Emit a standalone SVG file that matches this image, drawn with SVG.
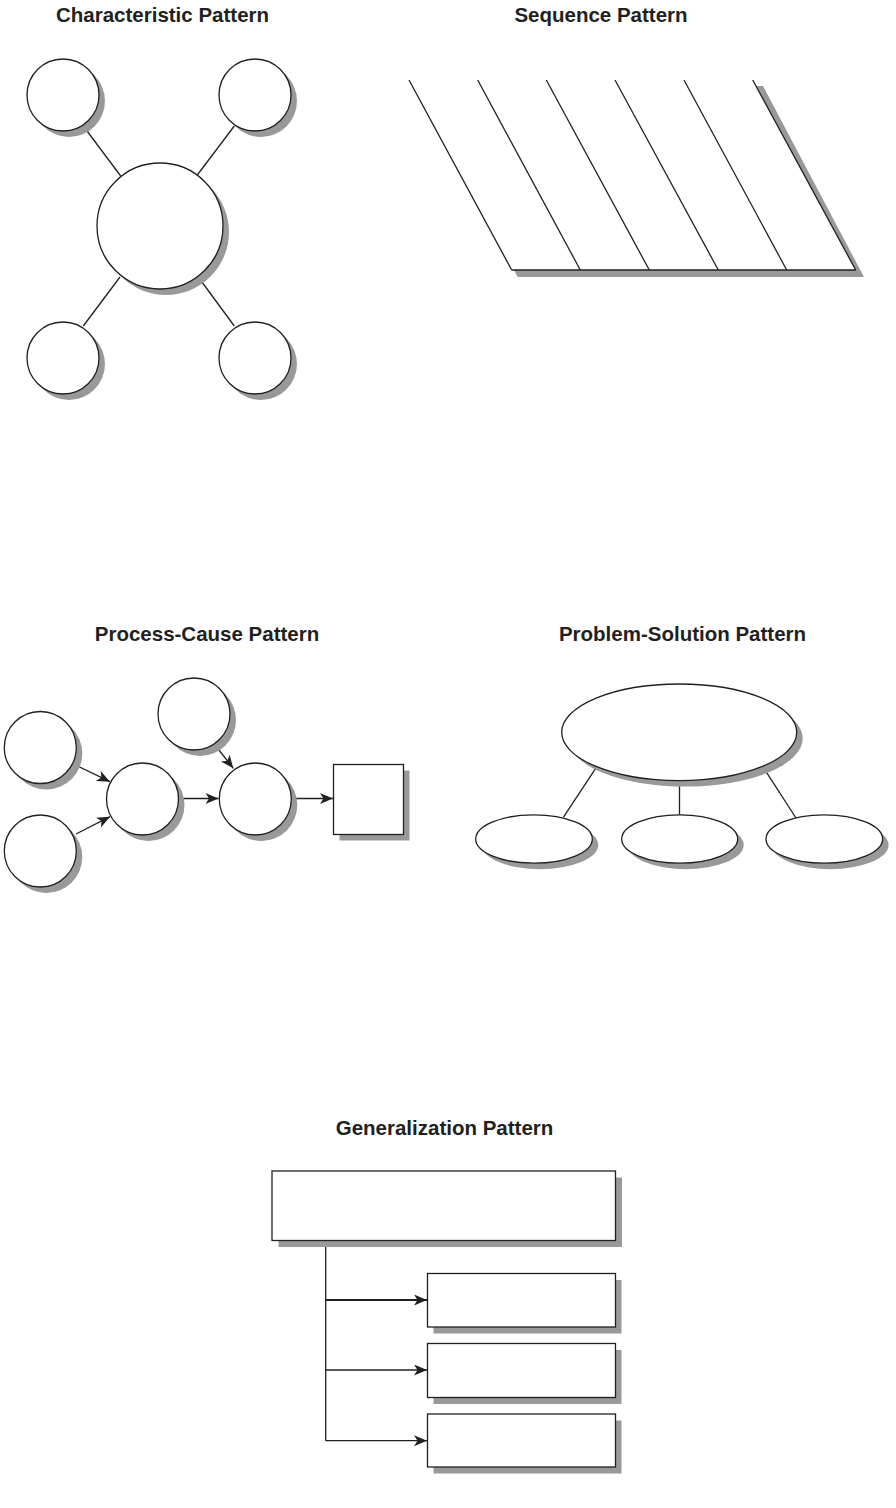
<svg xmlns="http://www.w3.org/2000/svg" width="896" height="1508" viewBox="0 0 896 1508">
<style>
.title{font-family:"Liberation Sans",Arial,sans-serif;font-weight:bold;font-size:20.5px;fill:#231f20;text-anchor:middle}
.shape{fill:#fff;stroke:#231f20;stroke-width:1.3}
.sh{fill:#999;stroke:none}
.ln{stroke:#231f20;stroke-width:1.3;fill:none}
.arr{stroke:#231f20;stroke-width:1.3;fill:none;marker-end:url(#ah)}
</style>
<defs>
<marker id="ah" markerUnits="userSpaceOnUse" markerWidth="15" markerHeight="13" refX="13" refY="5.5" orient="auto">
<path d="M0,0 L13,5.5 L0,11 L3.5,5.5 Z" fill="#231f20"/>
</marker>
</defs>
<rect width="896" height="1508" fill="#fff"/>

<text class="title" x="162.5" y="22">Characteristic Pattern</text>
<text class="title" x="601" y="22">Sequence Pattern</text>
<text class="title" x="207" y="641">Process-Cause Pattern</text>
<text class="title" x="682.5" y="641">Problem-Solution Pattern</text>
<text class="title" x="444.5" y="1135">Generalization Pattern</text>

<g id="connectors">
<line class="ln" x1="83.3" y1="126" x2="120.7" y2="176"/>
<line class="ln" x1="234.3" y1="126" x2="197.3" y2="175"/>
<line class="ln" x1="120" y1="277" x2="83.3" y2="326"/>
<line class="ln" x1="199" y1="278" x2="234.3" y2="326"/>
<line class="arr" x1="73.3" y1="764" x2="110" y2="781.7"/>
<line class="arr" x1="76" y1="834" x2="110" y2="816.7"/>
<line class="arr" x1="179" y1="798.5" x2="218.5" y2="798.5"/>
<line class="arr" x1="215" y1="745" x2="233.3" y2="768.3"/>
<line class="arr" x1="291.7" y1="798.5" x2="333" y2="798.5"/>
<line class="ln" x1="595.7" y1="768.3" x2="563.3" y2="817.3"/>
<line class="ln" x1="679.5" y1="780.7" x2="679.5" y2="815"/>
<line class="ln" x1="763.3" y1="767.3" x2="796" y2="818"/>
<line class="ln" x1="325.7" y1="1240.7" x2="325.7" y2="1440.7"/>
<line class="arr" x1="325.7" y1="1300" x2="427" y2="1300" style="stroke-width:2"/>
<line class="arr" x1="325.7" y1="1370" x2="427" y2="1370"/>
<line class="arr" x1="325.7" y1="1440.7" x2="427" y2="1440.7"/>
</g>

<g id="char-center"><circle class="sh" cx="166" cy="232" r="63"/><circle class="shape" cx="160" cy="226" r="63"/></g>
<g id="char-tl"><circle class="sh" cx="69" cy="101" r="36"/><circle class="shape" cx="63" cy="95" r="36"/></g>
<g id="char-tr"><circle class="sh" cx="261" cy="101" r="36"/><circle class="shape" cx="255" cy="95" r="36"/></g>
<g id="char-bl"><circle class="sh" cx="69" cy="364" r="36"/><circle class="shape" cx="63" cy="358" r="36"/></g>
<g id="char-br"><circle class="sh" cx="261" cy="364" r="36"/><circle class="shape" cx="255" cy="358" r="36"/></g>

<g id="sequence">
<polygon class="sh" points="415,86 763,86 864,277 517.7,277"/>
<polygon fill="#fff" points="409,80 752.7,80 855.7,270 511.7,270"/>
<line class="ln" x1="409" y1="80" x2="511.7" y2="270"/>
<line class="ln" x1="477.7" y1="80" x2="580.3" y2="270"/>
<line class="ln" x1="546.3" y1="80" x2="649.3" y2="270"/>
<line class="ln" x1="615" y1="80" x2="718.3" y2="270"/>
<line class="ln" x1="684" y1="80" x2="786.7" y2="270"/>
<line class="ln" x1="752.7" y1="80" x2="855.7" y2="270"/>
<line class="ln" x1="511.7" y1="270" x2="855.7" y2="270"/>
</g>

<g id="pc-in1"><circle class="sh" cx="46.3" cy="753.5" r="36"/><circle class="shape" cx="40.3" cy="747.5" r="36"/></g>
<g id="pc-in2"><circle class="sh" cx="46.3" cy="857" r="36"/><circle class="shape" cx="40.3" cy="851" r="36"/></g>
<g id="pc-mid1"><circle class="sh" cx="148.5" cy="805" r="36"/><circle class="shape" cx="142.5" cy="799" r="36"/></g>
<g id="pc-top"><circle class="sh" cx="200" cy="720" r="36"/><circle class="shape" cx="194" cy="714" r="36"/></g>
<g id="pc-mid2"><circle class="sh" cx="261.3" cy="805" r="36"/><circle class="shape" cx="255.3" cy="799" r="36"/></g>
<g id="pc-result"><rect class="sh" x="339.5" y="770.5" width="70" height="70"/><rect class="shape" x="333.5" y="764.5" width="70" height="70"/></g>

<g id="ps-problem"><ellipse class="sh" cx="685.2" cy="738.3" rx="117.5" ry="48.3"/><ellipse class="shape" cx="679.2" cy="732.3" rx="117.5" ry="48.3"/></g>
<g id="ps-sol1"><ellipse class="sh" cx="540" cy="845" rx="58.3" ry="24.2"/><ellipse class="shape" cx="534" cy="839" rx="58.3" ry="24.2"/></g>
<g id="ps-sol2"><ellipse class="sh" cx="685.7" cy="845" rx="58" ry="24.2"/><ellipse class="shape" cx="679.7" cy="839" rx="58" ry="24.2"/></g>
<g id="ps-sol3"><ellipse class="sh" cx="830.3" cy="845" rx="58.3" ry="24.2"/><ellipse class="shape" cx="824.3" cy="839" rx="58.3" ry="24.2"/></g>

<g id="gen-top"><rect class="sh" x="278.5" y="1177.5" width="343.5" height="69.5"/><rect class="shape" x="272" y="1171" width="343.5" height="69.5"/></g>
<g id="gen-c1"><rect class="sh" x="433.5" y="1280" width="188" height="53.5"/><rect class="shape" x="427.5" y="1273.5" width="188" height="53.5"/></g>
<g id="gen-c2"><rect class="sh" x="433.5" y="1350" width="188" height="54"/><rect class="shape" x="427.5" y="1343.5" width="188" height="54"/></g>
<g id="gen-c3"><rect class="sh" x="433.5" y="1420.5" width="188" height="53"/><rect class="shape" x="427.5" y="1414" width="188" height="53"/></g>
</svg>
